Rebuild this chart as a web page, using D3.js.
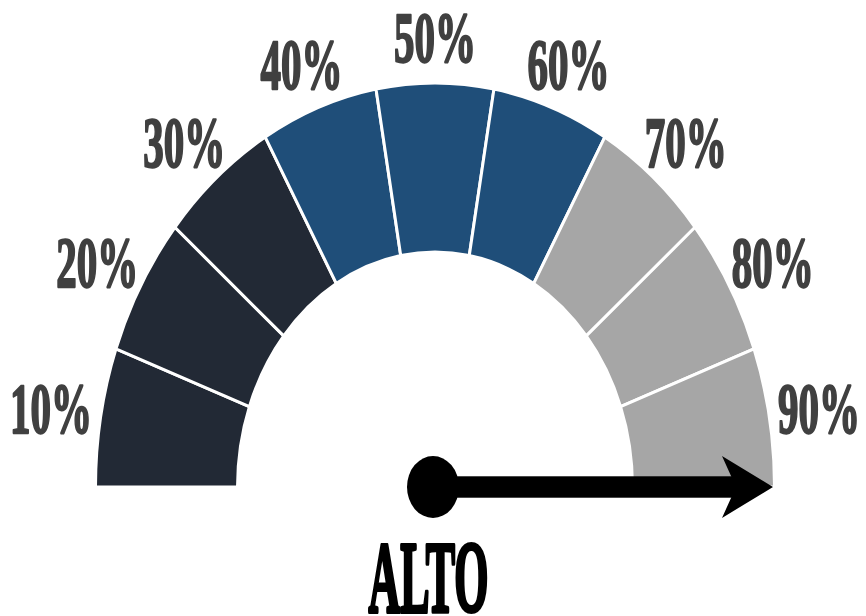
<!DOCTYPE html>
<html>
<head>
<meta charset="utf-8">
<script src="https://cdn.jsdelivr.net/npm/d3@7/dist/d3.min.js"></script>
<style>
  html, body { margin: 0; padding: 0; background: #ffffff; }
  svg { display: block; }
</style>
</head>
<body>
<svg id="chart" width="866" height="616"></svg>
<script>
// Gauge segments (percent centre of each band) and their fills
const segmentValues = [10, 20, 30, 40, 50, 60, 70, 80, 90];
const segmentLabels = ["10%", "20%", "30%", "40%", "50%", "60%", "70%", "80%", "90%"];
const segmentColors = ["#222935", "#222935", "#222935",
                       "#1f4e79", "#1f4e79", "#1f4e79",
                       "#a6a6a6", "#a6a6a6", "#a6a6a6"];
const needleValue = 95;       // needle rests at the top end of the scale
const levelText = "ALTO";

const cx = 435, cy = 487;     // gauge pivot
const ky = 1.19;              // vertical stretch of the dial
const rOuter = 339.5, rInner = 197.5, rLabel = 390, kyLabel = 1.152;

const svg = d3.select("#chart");

// value -> angle (radians, d3.arc convention: 0 = up, clockwise)
const step = segmentValues[1] - segmentValues[0];
const angle = d3.scaleLinear()
  .domain([segmentValues[0] - step / 2, segmentValues[segmentValues.length - 1] + step / 2])
  .range([-Math.PI / 2, Math.PI / 2]);

const dial = svg.append("g")
  .attr("transform", `translate(${cx},${cy}) scale(1,${ky})`);

const arc = d3.arc()
  .innerRadius(rInner)
  .outerRadius(rOuter);

dial.selectAll("path.seg")
  .data(segmentValues)
  .join("path")
  .attr("class", "seg")
  .attr("d", v => arc({ startAngle: angle(v - step / 2), endAngle: angle(v + step / 2) }))
  .attr("fill", (v, i) => segmentColors[i])
  .attr("stroke", "#ffffff")
  .attr("stroke-width", 3)
  .attr("vector-effect", "non-scaling-stroke");

// Percent labels around the dial
const fs = 41, fsy = 1.75, digitH = 0.676 * fs;
svg.selectAll("g.lbl")
  .data(segmentValues)
  .join("g")
  .attr("class", "lbl")
  .attr("transform", v => {
    const a = angle(v);
    const x = cx + rLabel * Math.sin(a);
    const y = cy - rLabel * kyLabel * Math.cos(a);
    return `translate(${x},${y}) scale(1,${fsy})`;
  })
  .append("text")
  .attr("text-anchor", "middle")
  .attr("y", digitH / 2)
  .attr("font-family", "'Liberation Serif', 'Times New Roman', serif")
  .attr("font-weight", "bold")
  .attr("font-size", fs)
  .attr("fill", "#404040")
  .attr("stroke", "#404040")
  .attr("stroke-width", 1.3)
  .attr("stroke-linejoin", "round")
  .text((v, i) => segmentLabels[i]);

// Needle
const needle = dial.append("g")
  .attr("transform", `rotate(${(angle(needleValue) * 180 / Math.PI) - 90})`);
const tipR = rOuter - 1.5;
needle.append("rect")
  .attr("x", 0).attr("y", -9)
  .attr("width", tipR - 36).attr("height", 18)
  .attr("fill", "#000");
needle.append("path")
  .attr("d", `M${tipR},0 L${tipR - 51},-26 L${tipR - 37},0 L${tipR - 51},26 Z`)
  .attr("fill", "#000");
needle.append("circle")
  .attr("cx", -2).attr("cy", 0).attr("r", 26)
  .attr("fill", "#000");

// Level caption
const afs = 44, afsy = 2.3;
svg.append("g")
  .attr("transform", `translate(428.5,612) scale(1,${afsy})`)
  .append("text")
  .attr("text-anchor", "middle")
  .attr("font-family", "'Liberation Serif', 'Times New Roman', serif")
  .attr("font-weight", "bold")
  .attr("font-size", afs)
  .attr("fill", "#000")
  .attr("stroke", "#000")
  .attr("stroke-width", 1.8)
  .attr("stroke-linejoin", "round")
  .text(levelText);
</script>
</body>
</html>
